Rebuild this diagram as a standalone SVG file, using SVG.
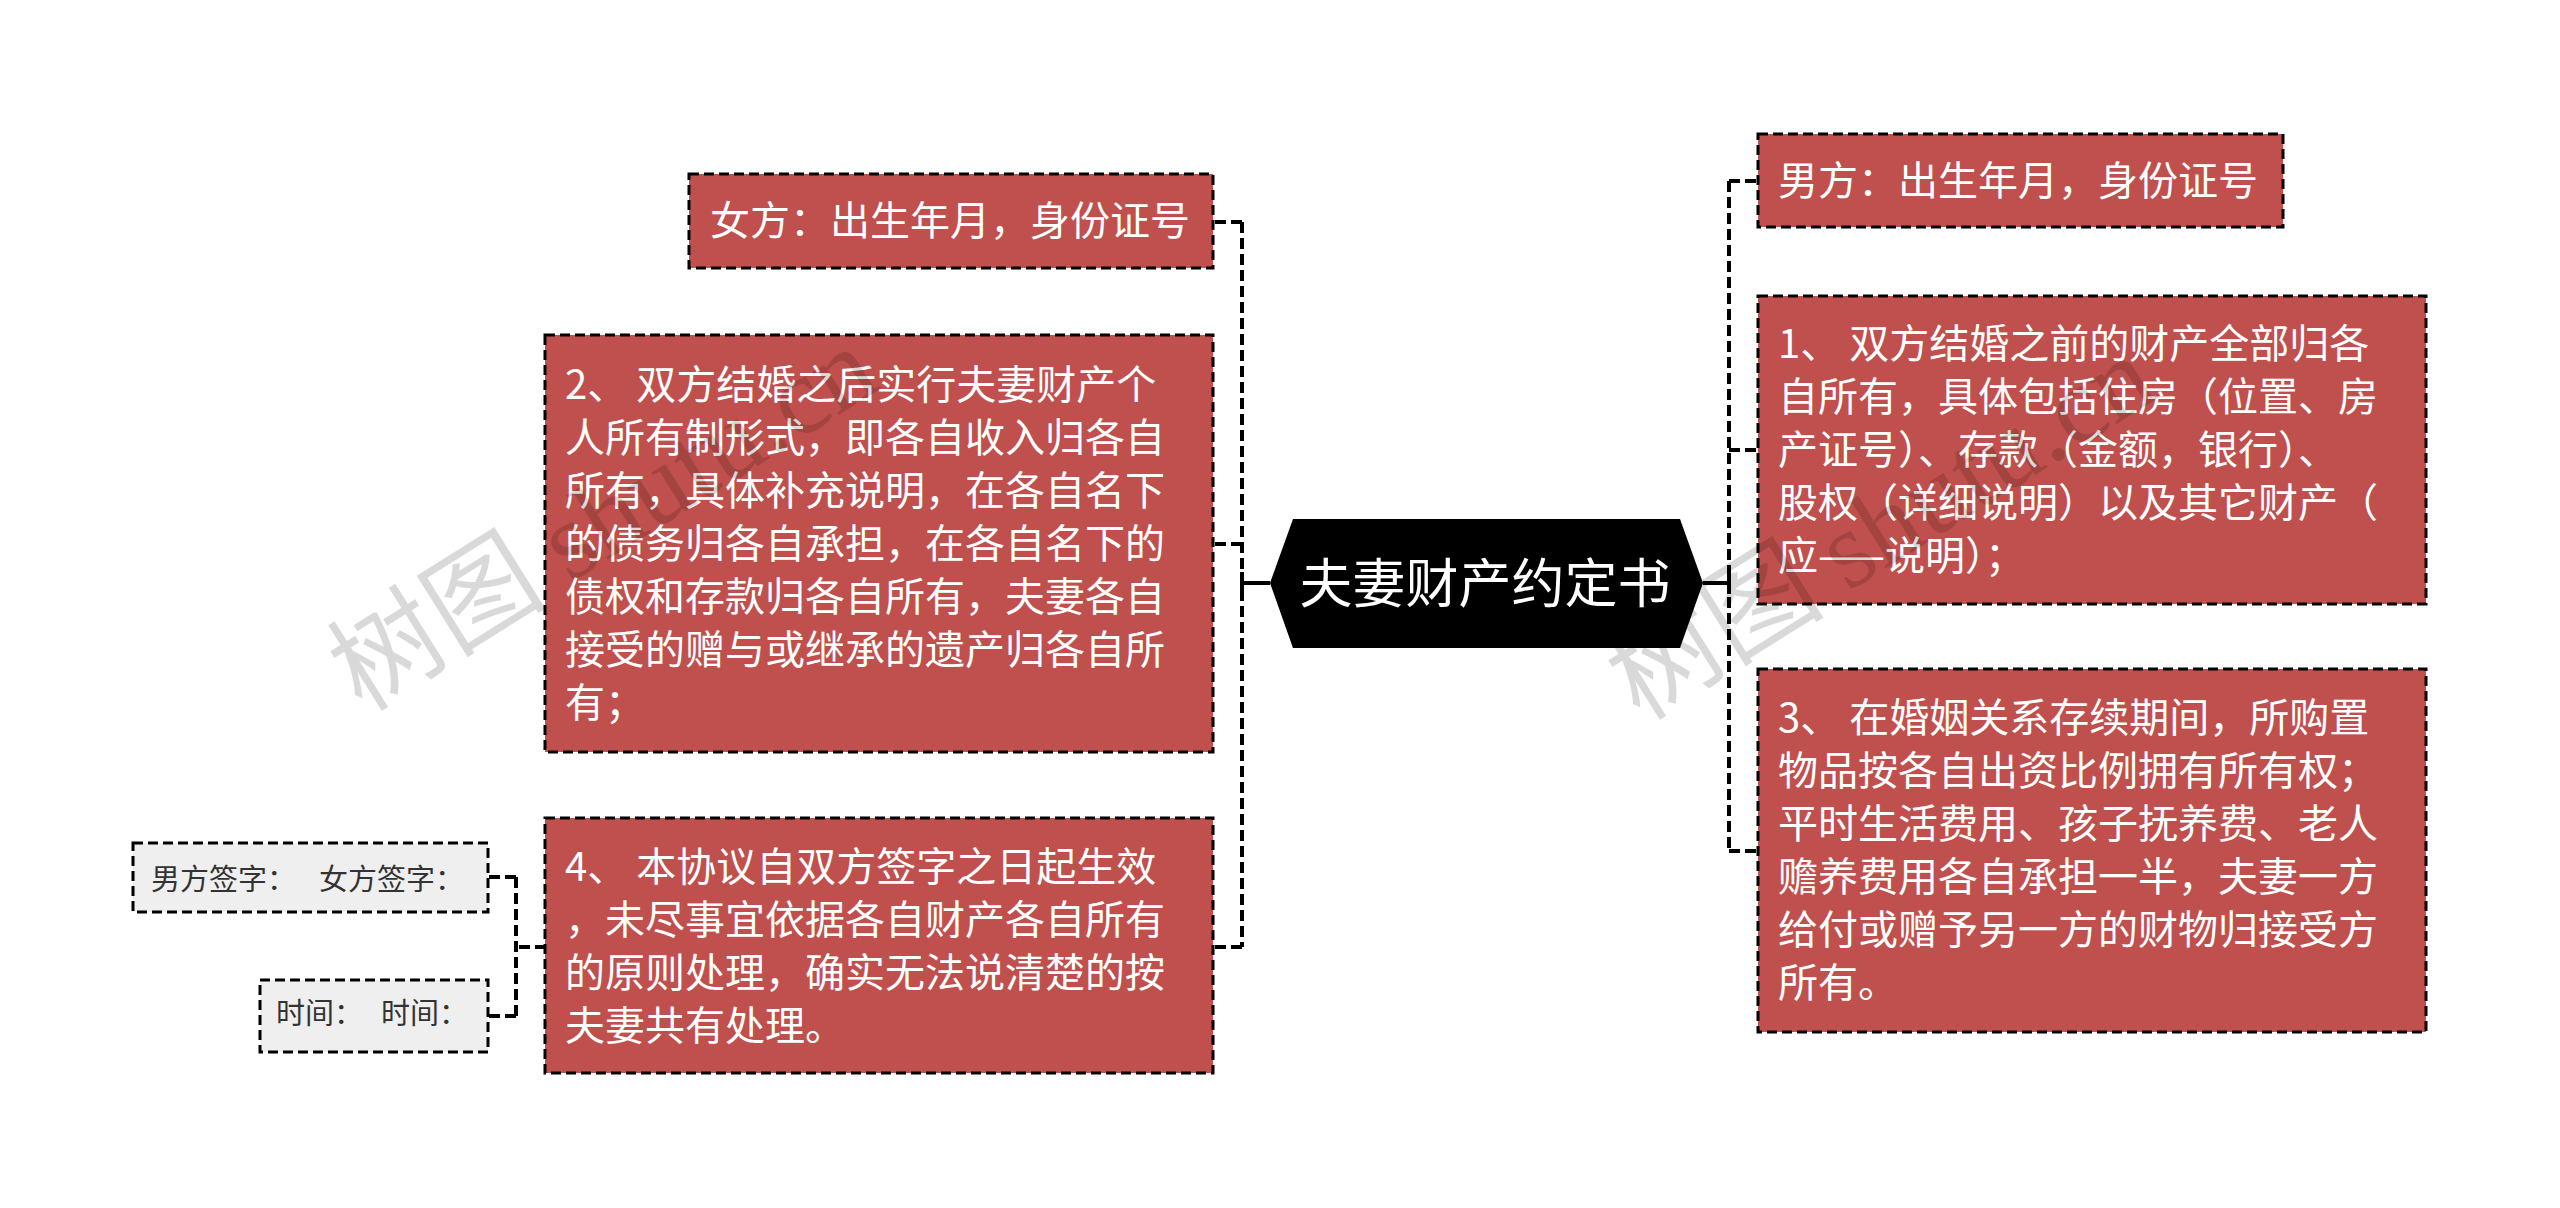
<svg xmlns="http://www.w3.org/2000/svg" width="2560" height="1208" viewBox="0 0 2560 1208">
<style>
.box{fill:#c0504d;stroke:#000;stroke-width:3;stroke-dasharray:10 5}
.sbox{fill:#efefef;stroke:#000;stroke-width:3;stroke-dasharray:10 5}
.t{font-family:"Noto Sans CJK SC","Noto Sans",sans-serif;fill:#fff}
.t40{font-size:40px}
.st{font-family:"Noto Sans CJK SC","Noto Sans",sans-serif;fill:#333;font-size:29px}
.dash{fill:none;stroke:#000;stroke-width:4;stroke-dasharray:11 5}
.solid{fill:none;stroke:#000;stroke-width:4}
.wm{font-family:"Noto Sans CJK SC",sans-serif;font-size:110px;fill:#000;fill-opacity:0.15}
.wml{font-family:"Liberation Serif",serif}
</style>
<rect width="2560" height="1208" fill="#fff"/>
<g id="connectors">
<path class="solid" d="M1270 583H1242M1242 572V594"/>
<path class="dash" d="M1242 222V947M1242 222H1213M1242 544H1213M1242 947H1213"/>
<path class="solid" d="M1703 583H1729M1729 572V594"/>
<path class="dash" d="M1729 181V851M1729 181H1758M1729 450H1758M1729 851H1758"/>
<path class="dash" d="M546 947H516M516 877V1016M516 877H488M516 1016H488"/>
</g>
<g id="center">
<polygon points="1270,583 1293,519 1680,519 1703,583 1680,648 1293,648" fill="#000"/>
<text x="1485" y="603" text-anchor="middle" class="t" font-size="53">夫妻财产约定书</text>
</g>
<g id="n-female">
<rect class="box" x="689" y="174" width="524" height="94"/>
<text class="t t40" x="710" y="235">女方：出生年月，身份证号</text>
</g>
<g id="n-2">
<rect class="box" x="545" y="335" width="668" height="417"/>
<text class="t t40"><tspan x="565" y="399">2、 双方结婚之后实行夫妻财产个</tspan><tspan x="565" y="452">人所有制形式，即各自收入归各自</tspan><tspan x="565" y="505">所有，具体补充说明，在各自名下</tspan><tspan x="565" y="558">的债务归各自承担，在各自名下的</tspan><tspan x="565" y="611">债权和存款归各自所有，夫妻各自</tspan><tspan x="565" y="664">接受的赠与或继承的遗产归各自所</tspan><tspan x="565" y="717">有；</tspan></text>
</g>
<g id="n-4">
<rect class="box" x="545" y="818" width="668" height="255"/>
<text class="t t40"><tspan x="565" y="881">4、 本协议自双方签字之日起生效</tspan><tspan x="565" y="934">，未尽事宜依据各自财产各自所有</tspan><tspan x="565" y="987">的原则处理，确实无法说清楚的按</tspan><tspan x="565" y="1040">夫妻共有处理。</tspan></text>
</g>
<g id="n-sign">
<rect class="sbox" x="133" y="843" width="355" height="69"/>
<text class="st" y="890"><tspan x="151">男方签字： </tspan><tspan x="319">女方签字：</tspan></text>
</g>
<g id="n-time">
<rect class="sbox" x="260" y="980" width="228" height="72"/>
<text class="st" y="1024"><tspan x="276">时间： </tspan><tspan x="381">时间：</tspan></text>
</g>
<g id="n-male">
<rect class="box" x="1758" y="134" width="525" height="93"/>
<text class="t t40" x="1778" y="195">男方：出生年月，身份证号</text>
</g>
<g id="n-1">
<rect class="box" x="1758" y="296" width="668" height="308"/>
<text class="t t40"><tspan x="1778" y="358">1、 双方结婚之前的财产全部归各</tspan><tspan x="1778" y="411">自所有，具体包括住房（位置、房</tspan><tspan x="1778" y="464">产证号）、存款（金额，银行）、</tspan><tspan x="1778" y="517">股权（详细说明）以及其它财产（</tspan><tspan x="1778" y="570">应——说明）；</tspan></text>
</g>
<g id="n-3">
<rect class="box" x="1758" y="669" width="668" height="363"/>
<text class="t t40"><tspan x="1778" y="732">3、 在婚姻关系存续期间，所购置</tspan><tspan x="1778" y="785">物品按各自出资比例拥有所有权；</tspan><tspan x="1778" y="838">平时生活费用、孩子抚养费、老人</tspan><tspan x="1778" y="891">赡养费用各自承担一半，夫妻一方</tspan><tspan x="1778" y="944">给付或赠予另一方的财物归接受方</tspan><tspan x="1778" y="997">所有。</tspan></text>
</g>
<g id="watermark">
<text class="wm" transform="translate(362 713) rotate(-32)">树图 <tspan class="wml">shutu.cn</tspan></text>
<text class="wm" transform="translate(1640 722) rotate(-32)">树图 <tspan class="wml">shutu.cn</tspan></text>
</g>
</svg>
